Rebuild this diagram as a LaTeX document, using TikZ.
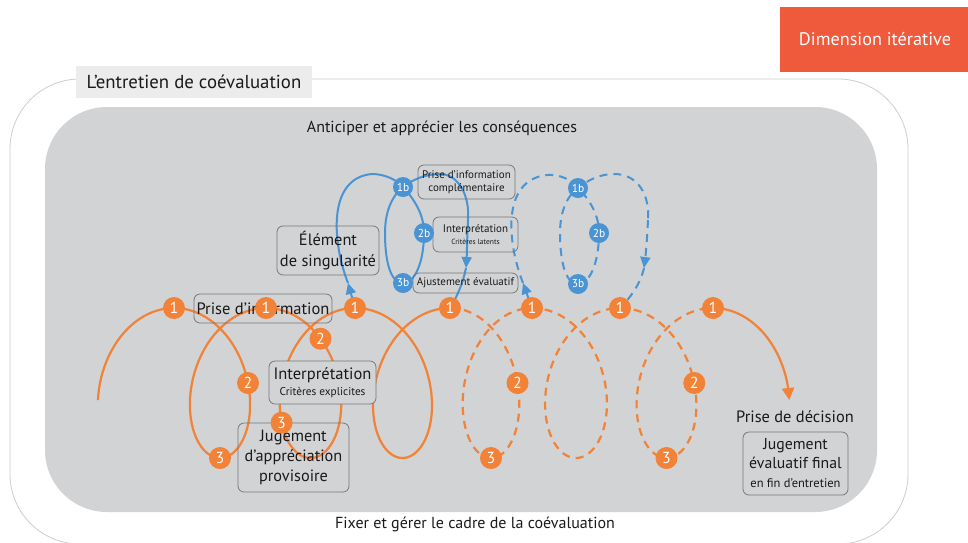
\documentclass[tikz,border=0pt]{standalone}
\usepackage{fontspec}
\setmainfont{PT Sans}
\usetikzlibrary{arrows.meta}
\definecolor{orng}{RGB}{242,130,55}
\definecolor{blu}{RGB}{74,148,212}
\definecolor{redb}{RGB}{240,90,60}
\definecolor{bgg}{RGB}{209,211,212}
\definecolor{frm}{RGB}{205,205,205}
\definecolor{bx}{RGB}{120,120,120}
\definecolor{ttl}{RGB}{236,236,236}
\definecolor{txt}{RGB}{26,26,26}
\newcommand\fsz[2]{\fontsize{#1}{#2}\selectfont}
\begin{document}
\begin{tikzpicture}[x=1pt,y=-1pt,
  oline/.style={draw=orng,line width=2.2pt},
  bline/.style={draw=blu,line width=2pt},
  dsh/.style={dash pattern=on 8pt off 6pt},
  omark/.style={circle,fill=orng,text=white,inner sep=0pt,minimum size=22pt,font=\fsz{16}{16}},
  bmark/.style={circle,fill=blu,text=white,inner sep=0pt,minimum size=20pt,font=\fsz{11.5}{11.5}},
  tbox/.style={draw=bx,line width=0.8pt,rounded corners=6pt,inner sep=0pt,align=center,text=txt},
  otip/.style={-{Triangle[length=12pt,width=12pt]}},
  btip/.style={-{Triangle[length=11pt,width=10pt]}},
  lbl/.style={text=txt,inner sep=0pt}
]
\useasboundingbox (0,0) rectangle (968,542);
% frames
\draw[frm,line width=0.8pt,rounded corners=70pt] (10,79) rectangle (908,544);
\fill[bgg,rounded corners=62pt] (45,107) rectangle (877,512);
\node[fill=ttl,minimum width=236pt,minimum height=32pt,inner sep=0pt,text=txt,font=\fsz{18.8}{20}] (title) at (194,82) {L’entretien de coévaluation};
\node[fill=redb,minimum width=190pt,minimum height=65pt,inner sep=0pt,text=white,font=\fsz{18.2}{20}] (dim) at (875,39.5) {Dimension itérative};
\node[lbl,font=\fsz{16}{18}] (antic) at (442,128) {Anticiper et apprécier les conséquences};
\node[lbl,font=\fsz{16}{18}] (fixer) at (475,524) {Fixer et gérer le cadre de la coévaluation};

% orange coil, solid part
\draw[oline] plot[variable=\t,domain=-1.8:6.2832,samples=110] ({174+14.642*\t+51*sin(\t r)},{383-75*cos(\t r)})
  -- plot[variable=\t,domain=0:6.2832,samples=100] ({266+14.165*\t+51*sin(\t r)},{383-75*cos(\t r)})
  -- plot[variable=\t,domain=0:6.2832,samples=100] ({355+15.120*\t+51*sin(\t r)},{383-75*cos(\t r)});
% dashed part
\draw[oline,dsh] plot[variable=\t,domain=0:6.2832,samples=100] ({450+13.051*\t+47*sin(\t r)},{383-75*cos(\t r)})
  -- plot[variable=\t,domain=0:6.2832,samples=100] ({532+14.006*\t+51*sin(\t r)},{383-75*cos(\t r)})
  -- plot[variable=\t,domain=0:6.2832,samples=100] ({620+14.801*\t+51*sin(\t r)},{383-75*cos(\t r)});
% final arc
\coordinate (otipc) at (789.3,400);
\draw[oline,otip] plot[variable=\t,domain=0:1.62,samples=40] ({713+14.801*\t+51*sin(\t r)},{383-75*cos(\t r)}) -- (otipc);

% orange marker positions
\coordinate (p0a) at (174,308);
\coordinate (p1a) at (266,308);
\coordinate (p2a) at (355,308);
\coordinate (p3a) at (450,308);
\coordinate (p4a) at (532,308);
\coordinate (p5a) at (620,308);
\coordinate (p6a) at (713,308);

% blue solid loop
\coordinate (bT1) at (348,283);
\coordinate (bTL) at (372,174);
\coordinate (b1p) at (403,187);
\coordinate (b2p) at (424,233);
\coordinate (b3p) at (403,283);
\coordinate (bIL) at (385,233);
\coordinate (bTR) at (440,174);
\coordinate (bR) at (468,220);
\coordinate (bT2) at (466,268);
\draw[bline,btip] (p2a) -- (bT1);
\draw[bline] (bT1) .. controls (333,245) and (326,178) .. (bTL)
  .. controls (385,174) and (397,180) .. (b1p)
  .. controls (415,200) and (424,215) .. (b2p)
  .. controls (424,262) and (415,283) .. (b3p)
  .. controls (390,283) and (385,260) .. (bIL)
  .. controls (385,210) and (393,195) .. (b1p)
  .. controls (412,180) and (425,174) .. (bTR)
  .. controls (458,174) and (470,195) .. (bR);
\draw[bline,btip] (bR) .. controls (467,240) and (467,252) .. (bT2);
\draw[bline] (bT2) .. controls (463,283) and (457,297) .. (p3a);

% blue dashed loop
\coordinate (dT1) at (523,283);
\coordinate (dTL) at (547,175);
\coordinate (d1p) at (578,188);
\coordinate (d2p) at (599,233);
\coordinate (d3p) at (578,284);
\coordinate (dIL) at (560,233);
\coordinate (dTR) at (614,174);
\coordinate (dR) at (648,220);
\coordinate (dT2) at (644,268);
\draw[bline,btip] (p4a) -- (dT1);
\draw[bline,dsh] (dT1) .. controls (508,245) and (500,180) .. (dTL)
  .. controls (560,174) and (572,180) .. (d1p)
  .. controls (590,200) and (599,215) .. (d2p)
  .. controls (599,262) and (590,284) .. (d3p)
  .. controls (565,284) and (560,260) .. (dIL)
  .. controls (560,210) and (568,195) .. (d1p)
  .. controls (588,180) and (600,174) .. (dTR)
  .. controls (638,174) and (650,195) .. (dR);
\draw[bline,dsh,btip] (dR) .. controls (647,240) and (646,252) .. (dT2);
\draw[bline,dsh] (dT2) .. controls (640,285) and (630,298) .. (p5a);

% boxes
\node[tbox,minimum width=138pt,minimum height=29pt,font=\fsz{16.5}{18}] (pinfo) at (263,308.5) {Prise d’information};
\node[tbox,fill=bgg,minimum width=107pt,minimum height=43pt,font=\fsz{16.5}{16}] (interp) at (322.5,382.5) {Interprétation\\{\fsz{11.3}{12}Critères explicites}};
\node[tbox,minimum width=111pt,minimum height=69pt,font=\fsz{16.3}{20}] (jug) at (293.5,457.5) {Jugement\\d’appréciation\\provisoire};
\node[tbox,minimum width=102pt,minimum height=49pt,font=\fsz{16.4}{21}] (elem) at (328,250.5) {Élément\\de singularité};
\node[tbox,minimum width=97pt,minimum height=34pt,font=\fsz{11}{13}] (pinfoc) at (466.5,182) {Prise d’information\\complémentaire};
\node[tbox,minimum width=85pt,minimum height=35pt,font=\fsz{11}{12}] (interpl) at (475.5,234.5) {Interprétation\\{\fsz{7.5}{9}Critères latents}};
\node[tbox,minimum width=105pt,minimum height=20pt,font=\fsz{11}{12}] (ajust) at (465.5,283) {Ajustement évaluatif};
\node[lbl,font=\fsz{16.4}{18}] (pdec) at (795,417) {Prise de décision};
\node[tbox,minimum width=105pt,minimum height=63pt,font=\fsz{15.8}{19}] (jfin) at (795.5,463.5) {Jugement\\évaluatif final\\{\fsz{12.5}{14}en fin d’entretien}};

% orange markers
\node[omark] (m0a) at (p0a) {1};
\node[omark] (m0b) at (248,383) {2};
\node[omark] (m0c) at (220,458) {3};
\node[omark] (m1a) at (p1a) {1};
\node[omark] (m1b) at (320.5,338.7) {2};
\node[omark] (m1c) at (281.6,422.7) {3};
\node[omark] (m2a) at (p2a) {1};
\node[omark] (m3a) at (p3a) {1};
\node[omark] (m3b) at (517.5,383) {2};
\node[omark] (m3c) at (491,458) {3};
\node[omark] (m4a) at (p4a) {1};
\node[omark] (m5a) at (p5a) {1};
\node[omark] (m5b) at (694.3,383) {2};
\node[omark] (m5c) at (666.5,458) {3};
\node[omark] (m6a) at (p6a) {1};
% blue markers
\node[bmark] (b1) at (b1p) {1b};
\node[bmark] (b2) at (b2p) {2b};
\node[bmark] (b3) at (b3p) {3b};
\node[bmark] (d1) at (d1p) {1b};
\node[bmark] (d2) at (d2p) {2b};
\node[bmark] (d3) at (d3p) {3b};
\end{tikzpicture}
\end{document}
